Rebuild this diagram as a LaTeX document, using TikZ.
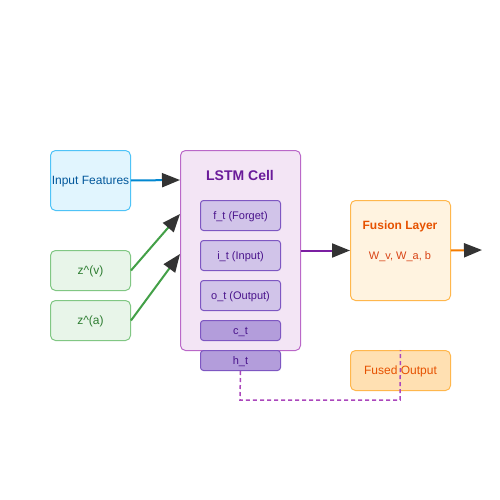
\documentclass[tikz,border=0pt]{standalone}
\usepackage{fontspec}
\setmainfont{Liberation Sans}
\usetikzlibrary{arrows.meta}
\definecolor{inFill}{HTML}{E1F5FE}
\definecolor{inDraw}{HTML}{4FC3F7}
\definecolor{inText}{HTML}{01579B}
\definecolor{inLine}{HTML}{0288D1}
\definecolor{zFill}{HTML}{E8F5E9}
\definecolor{zDraw}{HTML}{81C784}
\definecolor{zText}{HTML}{2E7D32}
\definecolor{zLine}{HTML}{43A047}
\definecolor{lFill}{HTML}{F3E5F5}
\definecolor{lDraw}{HTML}{BA68C8}
\definecolor{lText}{HTML}{6A1B9A}
\definecolor{gFill}{HTML}{D1C4E9}
\definecolor{gFillB}{HTML}{B39DDB}
\definecolor{gDraw}{HTML}{7E57C2}
\definecolor{gText}{HTML}{4A148C}
\definecolor{lLine}{HTML}{7B1FA2}
\definecolor{fFill}{HTML}{FFF3E0}
\definecolor{fDraw}{HTML}{FFB74D}
\definecolor{fText}{HTML}{E65100}
\definecolor{fTextB}{HTML}{D84315}
\definecolor{oFill}{HTML}{FFE0B2}
\definecolor{fLine}{HTML}{F57C00}
\definecolor{dashC}{HTML}{AB47BC}
\definecolor{tipC}{HTML}{333333}
\begin{document}
\begin{tikzpicture}[x=1pt,y=-1pt,
  box/.style={rectangle,rounded corners=5pt,line width=1pt,inner sep=0pt,text depth=0pt,anchor=north west},
  inbox/.style={box,fill=inFill,draw=inDraw,text=inText,font=\fontsize{12}{14}\selectfont},
  zbox/.style={box,fill=zFill,draw=zDraw,text=zText,font=\fontsize{12}{14}\selectfont},
  gate/.style={box,rounded corners=3pt,fill=gFill,draw=gDraw,text=gText,font=\fontsize{11}{13}\selectfont,minimum width=80pt,minimum height=30pt},
  gateb/.style={gate,fill=gFillB,minimum height=20pt},
  arr/.style={line width=2pt,-{Triangle[length=18pt,width=14pt,color=tipC]}}
]
\useasboundingbox (0,0) rectangle (500,500);
\fill[white] (0,0) rectangle (500,500);

\node[inbox,minimum width=80pt,minimum height=60pt] (inp) at (50,150) {Input Features};
\node[zbox,minimum width=80pt,minimum height=40pt] (zv) at (50,250) {z\^{}(v)};
\node[zbox,minimum width=80pt,minimum height=40pt] (za) at (50,300) {z\^{}(a)};

\node[box,fill=lFill,draw=lDraw,minimum width=120pt,minimum height=200pt] (lstm) at (180,150) {};
\node[text=lText,font=\bfseries\fontsize{14}{16}\selectfont] (ltitle) at (240,175.5) {LSTM Cell};
\node[gate] (ft) at (200,200) {f\_t (Forget)};
\node[gate] (it) at (200,240) {i\_t (Input)};
\node[gate] (ot) at (200,280) {o\_t (Output)};
\node[gateb] (ct) at (200,320) {c\_t};
\node[gateb] (ht) at (200,350) {h\_t};

\node[box,fill=fFill,draw=fDraw,minimum width=100pt,minimum height=100pt] (fus) at (350,200) {};
\node[text=fText,font=\bfseries\fontsize{12}{14}\selectfont] (ftitle) at (400,226) {Fusion Layer};
\node[text=fTextB,font=\fontsize{11}{13}\selectfont] (fsub) at (400,257) {W\_v, W\_a, b};

\node[box,fill=oFill,draw=fDraw,text=fText,font=\fontsize{12}{14}\selectfont,minimum width=100pt,minimum height=40pt] (fo) at (350,350) {Fused Output};

\coordinate (outEnd) at (482,250);
\coordinate (zvEnd) at (180,214);
\coordinate (zaEnd) at (180,254);

\draw[arr,inLine] (inp.east) -- (180,180);
\draw[arr,zLine] (zv.east) -- (zvEnd);
\draw[arr,zLine] (za.east) -- (zaEnd);
\draw[arr,lLine] (lstm.east) -- (fus.west);
\draw[arr,fLine] (fus.east) -- (outEnd);

\draw[dashC,line width=1.5pt,dash pattern=on 4pt off 3pt] (ht.south) -- (240,400) -- (400,400) -- (fo.north);
\end{tikzpicture}
\end{document}
